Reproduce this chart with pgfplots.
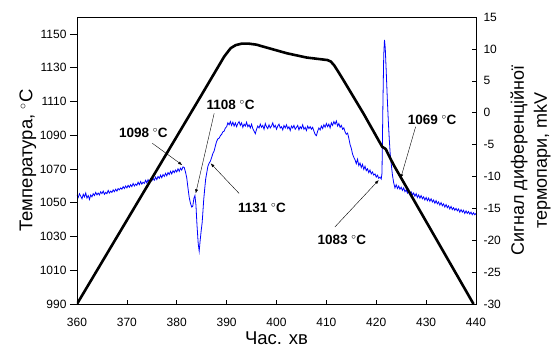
\documentclass[border=0pt]{standalone}
\usepackage{pgfplots}
\pgfplotsset{compat=1.18}
\usepackage{fontspec}
\setmainfont{Liberation Sans}
\usetikzlibrary{arrows.meta}
\definecolor{dtablue}{RGB}{0,0,255}
\begin{document}
\begin{tikzpicture}
\path[use as bounding box] (-77pt,-48pt) rectangle (478pt,304pt);
% ---------- right axis: DTA signal ----------
\begin{axis}[
  at={(0,0)}, anchor=south west,
  scale only axis, width=399pt, height=287pt,
  xmin=360, xmax=440, ymin=-30, ymax=15,
  axis y line*=right, axis x line*=bottom,
  xtick={360,370,...,440}, xticklabels={},
  ytick={-30,-25,...,15},
  tick align=inside, major tick length=4pt,
  tick style={black, line width=0.5pt},
  axis line style={black, line width=0.6pt},
  /pgf/number format/assume math mode=true,
  tick label style={font=\fontsize{12}{13}\selectfont, black},
  yticklabel style={xshift=4pt},
  ylabel={Сигнал диференційної\\термопари, mkV},
  ylabel style={at={(axis description cs:1.137,0.5)}, anchor=center, rotate=0,
    align=center, font=\fontsize{18}{23}\selectfont},
  clip=true,
]
\addplot[dtablue, line width=0.8pt] coordinates {
(360.00,-12.9)(360.25,-13.3)(360.50,-12.7)(360.75,-13.1)(361.00,-13.5)(361.25,-12.8)(361.50,-13.2)(361.75,-12.6)
(362.00,-13.4)(362.25,-13.0)(362.50,-13.6)(362.75,-12.9)(363.00,-13.2)(363.25,-12.7)(363.50,-13.0)(363.75,-12.5)
(364.00,-12.9)(364.25,-12.6)(364.50,-12.9)(364.75,-12.4)(365.00,-12.7)(365.25,-12.3)(365.50,-12.8)(365.75,-12.5)
(366.00,-12.7)(366.25,-12.2)(366.50,-12.6)(366.75,-12.3)(367.00,-12.5)(367.25,-12.1)(367.50,-12.4)(367.75,-12.0)
(368.00,-12.3)(368.25,-11.9)(368.50,-12.1)(368.75,-11.8)(369.00,-12.0)(369.25,-11.6)(369.50,-11.9)(369.75,-11.5)
(370.00,-11.8)(370.25,-11.4)(370.50,-11.7)(370.75,-11.3)(371.00,-11.6)(371.25,-11.1)(371.50,-11.5)(371.75,-11.2)
(372.00,-11.4)(372.25,-10.9)(372.50,-11.3)(372.75,-10.8)(373.00,-11.2)(373.25,-10.9)(373.50,-11.1)(373.75,-10.6)
(374.00,-11.0)(374.25,-10.5)(374.50,-10.9)(374.75,-10.4)(375.00,-10.7)(375.25,-10.3)(375.50,-10.6)(375.75,-10.1)
(376.00,-10.5)(376.25,-10.0)(376.50,-10.3)(376.75,-9.8)(377.00,-10.2)(377.25,-9.7)(377.50,-10.0)(377.75,-9.5)
(378.00,-9.9)(378.25,-9.4)(378.50,-9.7)(378.75,-9.2)(379.00,-9.6)(379.25,-9.1)(379.50,-9.4)(379.75,-9.0)
(380.00,-9.3)(380.25,-8.8)(380.50,-9.2)(380.75,-8.7)(381.00,-9.0)(381.25,-8.5)(381.50,-8.6)(381.75,-9.3)
(382.00,-10.2)(382.25,-11.8)(382.50,-13.3)(382.75,-14.2)(383.00,-14.8)(383.20,-14.7)(383.45,-13.4)(383.65,-13.0)
(383.85,-14.5)(384.05,-17.5)(384.30,-20.5)(384.50,-21.7)(384.70,-20.0)(384.90,-18.5)(385.10,-17.2)(385.25,-15.5)
(385.40,-13.7)(385.60,-12.0)(385.80,-10.4)(386.00,-9.5)(386.25,-8.4)(386.50,-7.9)(386.75,-7.6)(387.00,-7.0)
(387.25,-6.4)(387.50,-6.0)(387.75,-5.2)(388.00,-4.5)(388.25,-4.1)(388.50,-4.0)(388.75,-3.6)(389.00,-3.4)
(389.25,-3.0)(389.50,-2.9)(389.75,-2.4)(390.00,-2.2)(390.25,-1.6)(390.50,-1.9)(390.75,-1.4)
(391.00,-2.0)(391.25,-1.5)(391.50,-2.1)(391.75,-1.6)(392.00,-2.2)(392.25,-1.7)(392.50,-1.4)(392.75,-2.0)
(393.00,-1.6)(393.25,-2.3)(393.50,-1.8)(393.75,-2.1)(394.00,-1.5)(394.25,-2.2)(394.50,-1.9)(394.75,-2.4)
(395.00,-1.8)(395.25,-2.5)(395.50,-2.9)(395.75,-3.3)(396.00,-2.6)(396.25,-2.1)(396.50,-2.4)(396.75,-1.8)
(397.00,-2.3)(397.25,-2.0)(397.50,-2.6)(397.75,-1.7)(398.00,-2.2)(398.25,-2.5)(398.50,-1.9)(398.75,-2.4)
(399.00,-2.1)(399.25,-1.6)(399.50,-2.3)(399.75,-2.0)(400.00,-2.6)(400.25,-2.1)(400.50,-1.8)(400.75,-2.4)
(401.00,-2.2)(401.25,-2.7)(401.50,-2.0)(401.75,-2.4)(402.00,-1.9)(402.25,-2.5)(402.50,-2.2)(402.75,-2.8)
(403.00,-2.1)(403.25,-2.4)(403.50,-2.0)(403.75,-2.6)(404.00,-2.3)(404.25,-2.0)(404.50,-2.7)(404.75,-2.2)
(405.00,-2.5)(405.25,-1.9)(405.50,-2.6)(405.75,-2.3)(406.00,-2.8)(406.25,-2.1)(406.50,-2.5)(406.75,-2.2)
(407.00,-2.6)(407.25,-2.3)(407.50,-2.9)(407.75,-3.4)(408.00,-3.6)(408.25,-2.9)(408.50,-2.4)(408.75,-2.7)
(409.00,-2.1)(409.25,-2.5)(409.50,-1.9)(409.75,-2.3)(410.00,-1.7)(410.25,-2.2)(410.50,-1.8)(410.75,-2.4)
(411.00,-1.6)(411.25,-2.0)(411.50,-1.4)(411.75,-1.8)(412.00,-1.3)(412.25,-2.1)(412.50,-1.7)(412.75,-2.3)
(413.00,-2.0)(413.25,-2.6)(413.50,-2.4)(413.75,-3.0)(414.00,-3.4)(414.25,-3.2)(414.50,-4.0)(414.75,-5.0)
(415.00,-5.6)(415.25,-6.5)(415.50,-7.0)(415.75,-7.4)(416.00,-8.0)(416.25,-7.3)(416.50,-8.3)(416.75,-7.9)
(417.00,-8.6)(417.25,-8.1)(417.50,-8.9)(417.75,-8.4)(418.00,-9.1)(418.25,-8.8)(418.50,-9.4)(418.75,-9.0)
(419.00,-9.6)(419.25,-9.3)(419.50,-9.8)(419.75,-9.6)(420.00,-10.1)(420.25,-9.8)(420.50,-10.3)(420.75,-10.1)
(421.00,-10.4)(421.15,-9.5)(421.35,2.0)(421.50,9.0)(421.65,11.4)(421.80,10.2)(422.00,6.5)(422.20,2.5)
(422.40,-1.0)(422.60,-4.0)(422.80,-6.5)(423.00,-8.0)(423.25,-9.8)(423.50,-11.0)(423.75,-11.8)
(424.00,-11.3)(424.25,-11.9)(424.50,-11.5)(424.75,-12.0)(425.00,-11.7)(425.25,-12.2)(425.50,-11.8)(425.75,-12.4)
(426.00,-12.1)(426.25,-12.6)(426.50,-12.2)(426.75,-12.8)(427.00,-12.4)(427.25,-12.9)(427.50,-12.6)(427.75,-13.1)
(428.00,-12.7)(428.25,-13.3)(428.50,-12.9)(428.75,-13.4)(429.00,-13.0)(429.25,-13.5)(429.50,-13.2)(429.75,-13.7)
(430.00,-13.3)(430.25,-13.8)(430.50,-13.4)(430.75,-13.9)(431.00,-13.5)(431.25,-14.0)(431.50,-13.7)(431.75,-14.2)
(432.00,-13.8)(432.25,-14.3)(432.50,-14.0)(432.75,-14.5)(433.00,-14.1)(433.25,-14.6)(433.50,-14.3)(433.75,-14.8)
(434.00,-14.4)(434.25,-14.9)(434.50,-14.6)(434.75,-15.1)(435.00,-14.7)(435.25,-15.2)(435.50,-14.9)(435.75,-15.3)
(436.00,-15.0)(436.25,-15.4)(436.50,-15.1)(436.75,-15.6)(437.00,-15.2)(437.25,-15.6)(437.50,-15.3)(437.75,-15.8)
(438.00,-15.4)(438.25,-15.8)(438.50,-15.5)(438.75,-15.9)(439.00,-15.6)(439.25,-16.0)(439.50,-15.7)(439.75,-16.0)
(440.00,-15.8)
};
\end{axis}
% ---------- left axis: temperature ----------
\begin{axis}[
  at={(0,0)}, anchor=south west,
  scale only axis, width=399pt, height=287pt,
  xmin=360, xmax=440, ymin=990, ymax=1160,
  xtick={360,370,...,440}, ytick={990,1010,...,1150},
  xtick pos=bottom, ytick pos=left,
  tick align=outside, major tick length=7pt,
  tick style={black, line width=0.5pt},
  x tick style={draw=none},
  axis line style={black, line width=0.6pt},
  /pgf/number format/assume math mode=true,
  /pgf/number format/1000 sep={},
  tick label style={font=\fontsize{12}{13}\selectfont, black},
  xticklabel style={yshift=-4pt},
  xlabel={Час. хв},
  ylabel={Температура, $^{\circ}$C},
  xlabel style={at={(axis description cs:0.5,-0.118)}, anchor=center, font=\fontsize{18.5}{20}\selectfont},
  ylabel style={at={(axis description cs:-0.123,0.5)}, anchor=center, font=\fontsize{18.5}{20}\selectfont},
  clip=true,
]
\addplot[black, line width=2.6pt, line join=round] coordinates {
(360,990)(384.6,1112)(385.3,1115.5)(389.5,1136.5)(390.8,1141.5)(391.8,1143.3)(393,1144.2)(394.5,1144.2)
(396,1143.6)(397.4,1142.4)(402.1,1138.5)(406,1136)(410.2,1134.5)(410.9,1133.6)(411.6,1131.2)(412.4,1127.5)
(413.5,1122.2)(417.5,1102.5)(421.2,1083.1)(421.9,1081.8)(422.6,1077.5)(423.6,1071.8)(439.5,990)
};
\tikzset{ann/.style={font=\bfseries\fontsize{13.5}{14}\selectfont, inner sep=0pt},
  arr/.style={-{Latex[length=4pt,width=3pt]}, line width=0.4pt}}
\node[ann] at (axis cs:373.3,1091.3) {1098 $^{\circ}$C};
\draw[arr] (axis cs:375.1,1085.2) -- (axis cs:381.1,1072.3);
\node[ann] at (axis cs:390.8,1107.9) {1108 $^{\circ}$C};
\draw[arr] (axis cs:387.5,1102.9) -- (axis cs:383.8,1055.5);
\node[ann] at (axis cs:397.1,1046.8) {1131 $^{\circ}$C};
\draw[arr] (axis cs:392.5,1055.5) -- (axis cs:386.8,1073.3);
\node[ann] at (axis cs:431.2,1099.0) {1069 $^{\circ}$C};
\draw[arr] (axis cs:427.9,1095.0) -- (axis cs:424.9,1064.5);
\node[ann] at (axis cs:413.1,1027.9) {1083 $^{\circ}$C};
\draw[arr] (axis cs:411.7,1035.6) -- (axis cs:420.5,1063.4);
\end{axis}
\end{tikzpicture}
\end{document}
